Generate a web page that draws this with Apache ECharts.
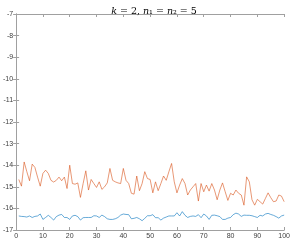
<!DOCTYPE html>
<html><head><meta charset="utf-8">
<script src="https://cdn.jsdelivr.net/npm/echarts@6/dist/echarts.min.js"></script>
<style>html,body{margin:0;padding:0;background:#fff}#c{width:293px;height:240px}</style>
</head><body><div id="c"></div>
<script>
var xTicks = [0,10,20,30,40,50,60,70,80,90,100];
var yTicks = [-7,-8,-9,-10,-11,-12,-13,-14,-15,-16,-17];
var orange = [-14.66,-14.97,-13.85,-14.30,-14.72,-13.95,-14.10,-14.55,-14.97,-14.38,
-14.23,-14.38,-14.70,-14.78,-14.70,-14.55,-14.72,-14.55,-15.08,-14.00,
-14.85,-14.88,-14.82,-15.49,-14.85,-14.26,-15.15,-14.66,-14.85,-15.03,
-14.77,-15.12,-15.00,-14.82,-14.15,-14.70,-14.77,-14.82,-14.85,-14.15,
-14.70,-14.85,-15.30,-15.34,-14.50,-15.18,-14.85,-14.30,-14.62,-14.66,
-15.28,-14.77,-15.18,-14.85,-14.50,-14.70,-14.30,-13.92,-14.77,-15.28,
-14.92,-14.62,-14.85,-15.38,-15.15,-15.00,-14.85,-15.66,-14.85,-15.23,
-14.92,-15.20,-14.85,-15.15,-15.60,-15.15,-14.82,-15.23,-15.63,-15.30,
-15.38,-15.15,-15.30,-15.38,-15.85,-14.54,-14.77,-15.60,-15.85,-15.58,
-15.69,-15.80,-15.54,-15.28,-15.50,-15.69,-15.66,-15.38,-15.43,-15.69];
var blue = [-16.35,-16.37,-16.38,-16.40,-16.35,-16.42,-16.37,-16.35,-16.26,-16.51,
-16.42,-16.32,-16.42,-16.54,-16.38,-16.31,-16.28,-16.42,-16.42,-16.51,
-16.35,-16.32,-16.38,-16.54,-16.43,-16.42,-16.42,-16.42,-16.34,-16.35,
-16.42,-16.31,-16.38,-16.48,-16.51,-16.51,-16.48,-16.42,-16.31,-16.26,
-16.28,-16.29,-16.48,-16.46,-16.42,-16.48,-16.57,-16.46,-16.34,-16.34,
-16.29,-16.43,-16.43,-16.54,-16.45,-16.40,-16.35,-16.35,-16.35,-16.20,
-16.35,-16.15,-16.32,-16.42,-16.37,-16.35,-16.37,-16.29,-16.43,-16.26,
-16.35,-16.51,-16.32,-16.31,-16.34,-16.38,-16.51,-16.51,-16.45,-16.42,
-16.29,-16.22,-16.26,-16.37,-16.31,-16.32,-16.32,-16.34,-16.38,-16.42,
-16.32,-16.35,-16.26,-16.23,-16.28,-16.32,-16.38,-16.45,-16.35,-16.31];

function pairs(a){ return a.map(function(v,i){ return [i+1, v]; }); }
var axisCol = '#a0a0a0';
var labCol = '#404040';
var chart = echarts.init(document.getElementById('c'), null, {renderer:'canvas'});
var xCommon = {type:'value', min:0, max:100, interval:10,
  axisLine:{show:true, lineStyle:{color:axisCol, width:1}},
  axisTick:{show:true, inside:true, length:3, lineStyle:{color:axisCol, width:1}},
  splitLine:{show:false}};
var yCommon = {type:'value', min:-17, max:-7, interval:1,
  axisLine:{show:true, lineStyle:{color:axisCol, width:1}},
  axisTick:{show:true, inside:true, length:3, lineStyle:{color:axisCol, width:1}},
  splitLine:{show:false}};
var ff = 'DejaVu Serif';
chart.setOption({
  animation:false,
  title:{
    text:'{i|k}{r| = 2, }{i|n}{r|\u2081 = }{i|n}{r|\u2082 = 5}',
    left:149, textAlign:'center', top:0,
    textStyle:{fontWeight:'normal', rich:{
      i:{fontFamily:ff, fontStyle:'italic', fontWeight:'normal', fontSize:9.5, lineHeight:13, color:'#000'},
      r:{fontFamily:ff, fontWeight:'normal', fontSize:9.5, lineHeight:13, color:'#000'}
    }}
  },
  grid:{left:12.5, right:6.5, top:14, bottom:10, containLabel:false},
  xAxis:[
    Object.assign({}, xCommon, {position:'bottom',
      axisLabel:{show:true, color:labCol, fontSize:7, fontFamily:'Liberation Sans', margin:3,
        formatter:function(v){return xTicks.indexOf(v)>=0 ? String(v) : '';}}}),
    Object.assign({}, xCommon, {position:'top', axisLabel:{show:false}})
  ],
  yAxis:[
    Object.assign({}, yCommon, {position:'left',
      axisLabel:{show:true, color:labCol, fontSize:7, fontFamily:'Liberation Sans', margin:3,
        formatter:function(v){return yTicks.indexOf(v)>=0 ? String(v) : '';}}}),
    Object.assign({}, yCommon, {position:'right', axisLabel:{show:false}})
  ],
  series:[
    {type:'line', data:pairs(blue), xAxisIndex:0, yAxisIndex:0, showSymbol:false, symbol:'none',
      lineStyle:{color:'#0072BD', width:0.8, opacity:0.75}},
    {type:'line', data:pairs(orange), xAxisIndex:0, yAxisIndex:0, showSymbol:false, symbol:'none',
      lineStyle:{color:'#D95319', width:0.8, opacity:0.75}}
  ]
});
</script></body></html>
